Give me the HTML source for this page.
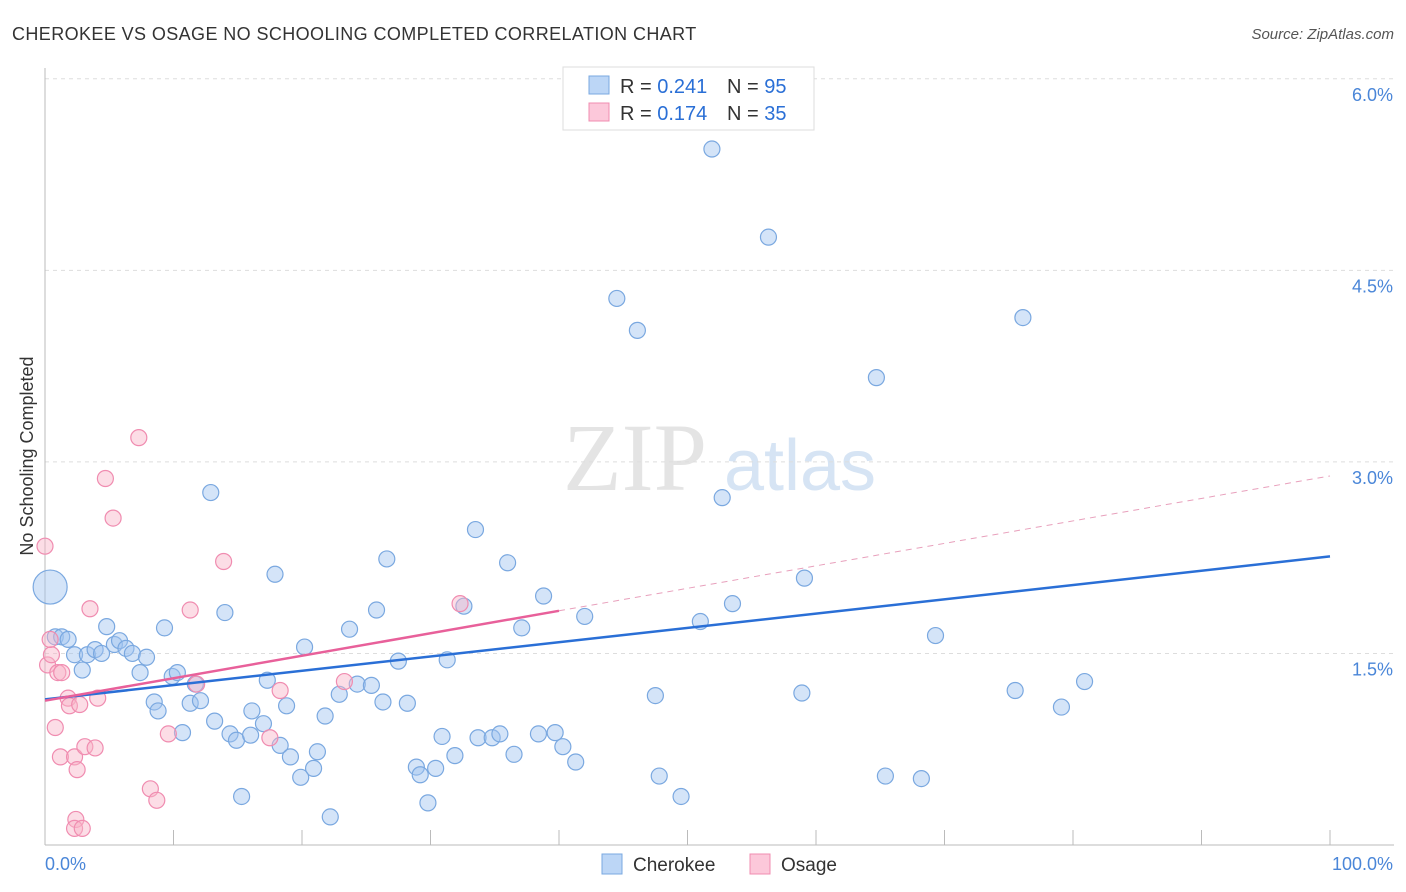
<!DOCTYPE html>
<html><head><meta charset="utf-8"><style>
body{margin:0;background:#fff;font-family:"Liberation Sans",sans-serif;}
#wrap{position:relative;width:1406px;height:892px;overflow:hidden;}
</style></head><body>
<div id="wrap">
<svg id="svg" width="1406" height="892" xmlns="http://www.w3.org/2000/svg">
<text x="12" y="40" font-size="18" letter-spacing="0.4" fill="#333">CHEROKEE VS OSAGE NO SCHOOLING COMPLETED CORRELATION CHART</text>
<text x="1394" y="39" font-size="15" fill="#555" text-anchor="end" font-style="italic">Source: ZipAtlas.com</text>
<text transform="translate(33,456) rotate(-90)" font-size="18" fill="#333" text-anchor="middle">No Schooling Completed</text>
<g>
<text x="635" y="490" font-size="96" fill="#e4e4e4" font-family="Liberation Serif" text-anchor="middle">ZIP</text>
<text x="800" y="490" font-size="72" fill="#d6e4f4" text-anchor="middle">atlas</text>
</g>
<g id="grid"></g><g id="axes"></g><g id="marks"></g>
<g>
<rect x="563" y="67" width="251" height="63" fill="#fff" stroke="#ddd"/>
<rect x="589" y="76" width="20" height="18" fill="#bcd6f6" stroke="#7aa8e0"/>
<rect x="589" y="103" width="20" height="18" fill="#fcc8da" stroke="#f08cb0"/>
<text x="620" y="93" font-size="20" fill="#333">R = <tspan fill="#2a6fd6">0.241</tspan></text>
<text x="727" y="93" font-size="20" fill="#333">N = <tspan fill="#2a6fd6">95</tspan></text>
<text x="620" y="120" font-size="20" fill="#333">R = <tspan fill="#2a6fd6">0.174</tspan></text>
<text x="727" y="120" font-size="20" fill="#333">N = <tspan fill="#2a6fd6">35</tspan></text>
</g>
<g>
<rect x="602" y="854" width="20" height="20" fill="#bcd6f6" stroke="#7aa8e0"/>
<text x="633" y="871" font-size="19" fill="#333">Cherokee</text>
<rect x="750" y="854" width="20" height="20" fill="#fcc8da" stroke="#f08cb0"/>
<text x="781" y="871" font-size="19" fill="#333">Osage</text>
</g>
<text x="45" y="870" font-size="18" fill="#4a86d8">0.0%</text>
<text x="1393" y="870" font-size="18" fill="#4a86d8" text-anchor="end">100.0%</text>
</svg>
</div>
<script>
const yTicks=[1.5,3.0,4.5,6.0];
const cherokeeX=[0.4,0.8,1.3,1.8,2.3,2.9,3.3,3.9,4.4,4.8,5.4,5.8,6.3,6.8,7.4,7.9,8.5,8.8,9.3,9.9,10.3,10.7,11.3,11.7,12.1,12.9,13.2,14.0,14.4,14.9,15.3,16.0,16.1,17.0,17.3,17.9,18.3,18.8,19.1,19.9,20.2,20.9,21.2,21.8,22.2,22.9,23.7,24.3,25.4,25.8,26.3,26.6,27.5,28.2,28.9,29.2,29.8,30.4,30.9,31.3,31.9,32.6,33.5,33.7,34.8,35.4,36.0,36.5,37.1,38.4,38.8,39.7,40.3,41.3,42.0,44.5,46.1,47.5,47.8,49.5,51.0,51.9,52.7,53.5,56.3,58.9,59.1,64.7,65.4,68.2,69.3,75.5,76.1,79.1,80.9];
const cherokeeY=[2.02,1.63,1.63,1.61,1.49,1.37,1.49,1.53,1.50,1.71,1.57,1.60,1.54,1.50,1.35,1.47,1.12,1.05,1.70,1.32,1.35,0.88,1.11,1.26,1.13,2.76,0.97,1.82,0.87,0.82,0.38,0.86,1.05,0.95,1.29,2.12,0.78,1.09,0.69,0.53,1.55,0.60,0.73,1.01,0.22,1.18,1.69,1.26,1.25,1.84,1.12,2.24,1.44,1.11,0.61,0.55,0.33,0.60,0.85,1.45,0.70,1.87,2.47,0.84,0.84,0.87,2.21,0.71,1.70,0.87,1.95,0.88,0.77,0.65,1.79,4.28,4.03,1.17,0.54,0.38,1.75,5.45,2.72,1.89,4.76,1.19,2.09,3.66,0.54,0.52,1.64,1.21,4.13,1.08,1.28];
const osageX=[0,0.2,0.5,0.8,1.0,1.2,1.3,1.8,1.9,2.3,2.5,2.4,2.3,2.9,2.7,3.1,3.5,3.9,4.1,4.7,5.3,7.3,8.2,8.7,9.6,11.3,11.8,13.9,17.5,18.3,23.3,32.3,0.4];
const osageY=[2.34,1.41,1.49,0.92,1.35,0.69,1.35,1.15,1.09,0.69,0.59,0.20,0.13,0.13,1.10,0.77,1.85,0.76,1.15,2.87,2.56,3.19,0.44,0.35,0.87,1.84,1.26,2.22,0.84,1.21,1.28,1.89,1.61];
const cherokeeTrend=[1.14,2.26];
const osageTrend=[1.13,2.89];
const osageSolidEnd=40;
const X=v=>45+v*12.85, Y=v=>845-v*127.7;
const NS='http://www.w3.org/2000/svg';
function mk(t,a,p){const e=document.createElementNS(NS,t);for(const k in a)e.setAttribute(k,a[k]);p.appendChild(e);return e;}
const grid=document.getElementById('grid'),axes=document.getElementById('axes'),marks=document.getElementById('marks');
yTicks.forEach(t=>{
 const l=mk('line',{x1:45,x2:1394,y1:Y(t),y2:Y(t),stroke:'#ddd','stroke-dasharray':'4,4'},grid);
 
 
 const tx=mk('text',{x:1393,y:Y(t)+22,'font-size':18,fill:'#4a86d8','text-anchor':'end'},grid);
 tx.textContent=t.toFixed(1)+'%';
 
 
});
let a=mk('line',{x1:45,x2:45,y1:68,y2:845,stroke:'#bbb'},axes);


a=mk('line',{x1:45,x2:1394,y1:845,y2:845,stroke:'#bbb'},axes);


for(let i=1;i<=10;i++){const t=mk('line',{x1:X(i*10),x2:X(i*10),y1:830,y2:845,stroke:'#bbb'},axes);
 
 }
cherokeeX.forEach((x,i)=>{const c=mk('circle',{cx:X(x),cy:Y(cherokeeY[i]),r:i===0?17:8,fill:'rgba(160,196,240,0.45)',stroke:'#7aa8e0','stroke-width':1.2},marks);
 
 });
osageX.forEach((x,i)=>{const c=mk('circle',{cx:X(x),cy:Y(osageY[i]),r:8,fill:'rgba(248,180,200,0.45)',stroke:'#f08cb0','stroke-width':1.2},marks);
 
 });
const oy=x=>osageTrend[0]+(osageTrend[1]-osageTrend[0])*x/100;
let l=mk('line',{x1:X(0),y1:Y(cherokeeTrend[0]),x2:X(100),y2:Y(cherokeeTrend[1]),stroke:'#2a6fd6','stroke-width':2.5},marks);


l=mk('line',{x1:X(0),y1:Y(oy(0)),x2:X(osageSolidEnd),y2:Y(oy(osageSolidEnd)),stroke:'#e8609a','stroke-width':2.5},marks);


l=mk('line',{x1:X(osageSolidEnd),y1:Y(oy(osageSolidEnd)),x2:X(100),y2:Y(oy(100)),stroke:'#e8a0bc','stroke-width':1,'stroke-dasharray':'6,5'},marks);


</script>
</body></html>
